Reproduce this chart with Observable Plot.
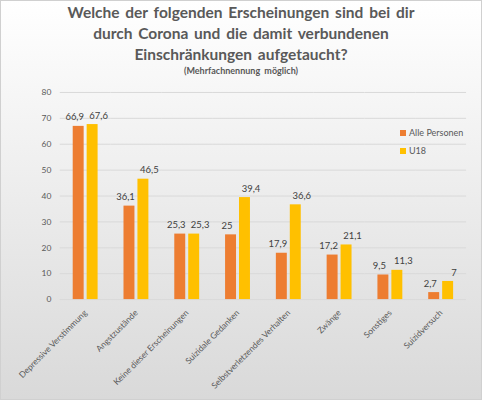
<!DOCTYPE html>
<html>
<head>
<meta charset="utf-8">
<script src="https://cdn.jsdelivr.net/npm/d3@7"></script>
<script src="https://cdn.jsdelivr.net/npm/@observablehq/plot@0.6"></script>
<style>
  body { margin: 0; }
  #wrap {
    position: relative; width: 482px; height: 400px; box-sizing: border-box;
    border: 1px solid #d0d0d0;
    background: linear-gradient(#ffffff, #d9d9d9);
    font-family: Lato, sans-serif; color: #595959; overflow: hidden;
  }
  #title {
    position: absolute; left: 0; top: 1px; width: 100%; text-align: center;
    font-weight: bold; font-size: 15.5px; line-height: 21px; word-spacing: 2px;
  }
  #sub { font-size: 9px; line-height: 12px; }
  #chart { position: absolute; left: 0; top: 81px; }
  .leg { position: absolute; left: 399px; font-size: 9px; display: flex; align-items: center; }
  .leg span { display: inline-block; width: 6px; height: 6px; margin-right: 3px; }
</style>
</head>
<body>
<div id="wrap">
  <div id="title">Welche der folgenden Erscheinungen sind bei dir<br>durch Corona und die damit verbundenen<br>Einschränkungen aufgetaucht?<div id="sub">(Mehrfachnennung möglich)</div></div>
  <div id="chart"></div>
  <div class="leg" style="top:126px"><span style="background:#ED7D31"></span>Alle Personen</div>
  <div class="leg" style="top:144px"><span style="background:#FFC000"></span>U18</div>
</div>
<script>
const categories = ["Depressive Verstimmung", "Angstzustände", "Keine dieser Erscheinungen", "Suizidale Gedanken",
  "Selbstverletzendes Verhalten", "Zwänge", "Sonstiges", "Suizidversuch"];
const series = ["Alle Personen", "U18"];
const alle = [66.9, 36.1, 25.3, 25, 17.9, 17.2, 9.5, 2.7];
const u18 = [67.6, 46.5, 25.3, 39.4, 36.6, 21.1, 11.3, 7];
const yTicks = [0, 10, 20, 30, 40, 50, 60, 70, 80];
const colors = ["#ED7D31", "#FFC000"];

const rows = [];
categories.forEach((c, i) => {
  rows.push({cat: c, series: series[0], value: alle[i]});
  rows.push({cat: c, series: series[1], value: u18[i]});
});

const label = d => String(d.value).replace(".", ",");

const chart = Plot.plot({
  width: 482, height: 318,
  marginTop: 10, marginBottom: 100, marginLeft: 56, marginRight: 13,
  style: {background: "transparent", color: "#595959", fontFamily: "Lato, sans-serif", fontSize: "8.5px"},
  fx: {domain: categories, padding: 0, label: null, tickRotate: -45, tickSize: 0, tickPadding: 12},
  x: {domain: series, axis: null, paddingInner: 0.2, paddingOuter: 0.82},
  y: {domain: [0, 80], ticks: yTicks, tickSize: 0, tickPadding: 9, label: null},
  color: {domain: series, range: colors},
  marks: [
    Plot.ruleY(yTicks, {stroke: "#d9d9d9"}),
    Plot.barY(rows, {fx: "cat", x: "series", y: "value", fill: "series"}),
    // Beschriftungen leicht nach außen versetzt, wie im Original
    Plot.text(rows.filter(d => d.series === series[0]), {fx: "cat", x: "series", y: "value",
      text: label, dy: -9, dx: -4, fill: "#404040", fontSize: 9.5}),
    Plot.text(rows.filter(d => d.series === series[1]), {fx: "cat", x: "series", y: "value",
      text: label, dy: -9, dx: 6, fill: "#404040", fontSize: 9.5})
  ]
});

d3.select("#chart").append(() => chart);
</script>
</body>
</html>
